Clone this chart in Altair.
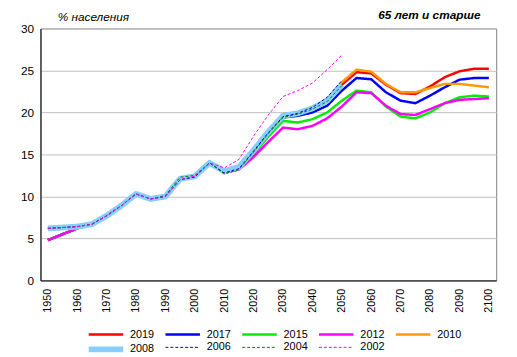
import altair as alt
import pandas as pd

years = list(range(1950, 2101, 5))

s2019 = [4.8, 5.5, 6.2, 6.7, 7.7, 8.9, 10.3, 9.7, 10.0, 12.1, 12.4, 14.0, 12.8, 13.3,
         15.2, 17.6, 19.8, 19.9, 20.4, 21.3, 23.3, 24.8, 24.65, 23.3, 22.3, 22.2, 23.1, 24.2, 24.9, 25.2, 25.2]
s2017 = [4.8, 5.5, 6.2, 6.7, 7.7, 8.9, 10.3, 9.7, 10.0, 12.1, 12.4, 14.0, 12.8, 13.3,
         15.1, 17.5, 19.4, 19.6, 20.0, 20.8, 22.6, 24.1, 23.95, 22.4, 21.4, 21.1, 22.0, 23.0, 23.9, 24.1, 24.1]
s2015 = [4.8, 5.5, 6.2, 6.7, 7.7, 8.9, 10.3, 9.7, 10.0, 12.1, 12.4, 14.0, 12.8, 13.3,
         15.0, 17.1, 19.0, 18.8, 19.2, 20.0, 21.4, 22.6, 22.4, 20.7, 19.5, 19.3, 20.0, 21.1, 21.8, 22.0, 21.9]
s2012 = [4.8, 5.5, 6.2, 6.7, 7.7, 8.9, 10.3, 9.7, 10.0, 12.1, 12.4, 14.0, 12.8, 13.2,
         14.7, 16.5, 18.2, 18.0, 18.4, 19.3, 20.7, 22.4, 22.3, 20.8, 19.8, 19.7, 20.4, 21.1, 21.5, 21.6, 21.7]
s2010 = [6.2, 6.3, 6.4, 6.7, 7.7, 8.9, 10.3, 9.7, 10.0, 12.1, 12.4, 14.0, 12.9, 13.4,
         15.3, 17.6, 19.6, 19.8, 20.3, 21.2, 23.6, 25.1, 24.85, 23.4, 22.4, 22.4, 22.9, 23.4, 23.4, 23.2, 23.0]
s2008 = [6.2, 6.3, 6.4, 6.7, 7.7, 8.9, 10.3, 9.7, 10.0, 12.1, 12.4, 14.0, 13.0, 13.5,
         15.5, 17.7, 19.6, 19.9, 20.5, 21.4, 23.3] + [None] * 10
s2006 = [6.2, 6.3, 6.4, 6.7, 7.7, 8.9, 10.3, 9.7, 10.0, 12.0, 12.3, 14.0, 12.8, 13.3,
         15.4, 17.6, 19.5, 19.9, 20.6, 21.8, 23.8] + [None] * 10
s2004 = [6.2, 6.3, 6.4, 6.7, 7.7, 8.9, 10.3, 9.7, 10.1, 12.3, 12.5, 14.0, 12.7, 13.2,
         15.3, 17.5, 19.4, 19.8, 20.4, 21.3, 23.2] + [None] * 10
s2002 = [6.2, 6.3, 6.4, 6.7, 7.7, 8.9, 10.3, 9.7, 10.0, 12.0, 12.4, 14.0, 13.4, 14.4,
         17.2, 19.7, 21.9, 22.6, 23.5, 25.1, 26.8] + [None] * 10

names = ["2019", "2017", "2015", "2012", "2010", "2008", "2006", "2004", "2002"]
series = [s2019, s2017, s2015, s2012, s2010, s2008, s2006, s2004, s2002]
colors = ["#ff0000", "#0000ff", "#00ee00", "#ff00ff", "#ff9900",
          "#87cefa", "#0000cc", "#008000", "#ff00ff"]
widths = [2.5, 2.5, 2.5, 2.5, 2.5, 6, 1, 1, 1]
dashes = [[1, 0], [1, 0], [1, 0], [1, 0], [1, 0], [1, 0], [3, 2], [3, 2], [3, 2]]

rows = []
for n, s in zip(names, series):
    for y, v in zip(years, s):
        if v is not None:
            rows.append({"year": y, "value": v, "series": n})
df = pd.DataFrame(rows)

leg = alt.Legend(orient="none", legendX=59, legendY=305, columns=5, direction="horizontal",
                 title=None, symbolType="M-4,0L4,0", symbolSize=76.6, labelFontSize=11,
                 labelOffset=17, columnPadding=5, rowPadding=-2.5,
                 labelFont="Liberation Sans", labelColor="black")

chart = alt.Chart(df).mark_line(strokeJoin="round").encode(
    x=alt.X("year:Q",
            scale=alt.Scale(domain=[1947.5, 2102.5], nice=False, zero=False),
            axis=alt.Axis(values=list(range(1950, 2101, 10)), format="d", labelAngle=270,
                          labelFontSize=11, ticks=False, tickSize=0, labelPadding=8,
                          grid=False, domainColor="black", labelColor="black",
                          title=None, labelFlush=False)),
    y=alt.Y("value:Q",
            scale=alt.Scale(domain=[0, 30], nice=False),
            axis=alt.Axis(values=[0, 5, 10, 15, 20, 25, 30], title="% населения",
                          titleAngle=0, titleAlign="left", titleX=17, titleY=-12,
                          titleBaseline="middle", titleFontStyle="italic",
                          titleFontWeight="normal", titleFontSize=12, titleColor="black",
                          labelFontSize=12, ticks=False, tickSize=0, labelPadding=7,
                          domainColor="black", gridColor="#c0c0c0", labelColor="black")),
    color=alt.Color("series:N", scale=alt.Scale(domain=names, range=colors), legend=leg),
    strokeDash=alt.StrokeDash("series:N", scale=alt.Scale(domain=names, range=dashes), legend=leg),
    strokeWidth=alt.StrokeWidth("series:N",
                                scale=alt.Scale(type="ordinal", domain=names, range=widths),
                                legend=leg),
).properties(
    width=463, height=256,
    autosize=alt.AutoSizeParams(type="none"),
    padding={"left": 33, "top": 18, "right": 13, "bottom": 75},
    title=alt.TitleParams("65 лет и старше", anchor="end", frame="group", fontSize=12,
                          fontStyle="italic", fontWeight="bold", dx=-16, dy=11, offset=0,
                          color="black", font="Liberation Sans"),
).configure(font="Liberation Sans").configure_view(stroke="#808080", strokeWidth=1)

chart.save("out.html", embed_options={"renderer": "svg", "actions": False})
